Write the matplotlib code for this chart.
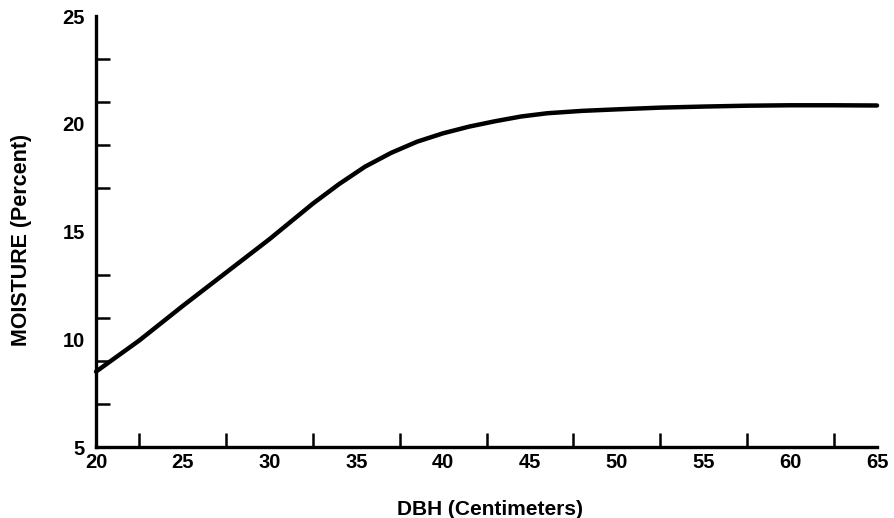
import numpy as np
import matplotlib.pyplot as plt

# values
dbh = [20, 22.5, 25, 27.5, 30, 32.5, 34, 35.5, 37, 38.5, 40, 41.5, 43, 44.5,
       46, 48, 50, 52.5, 55, 57.5, 60, 62.5, 65]
moisture = [8.5, 9.95, 11.55, 13.1, 14.65, 16.3, 17.2, 18.01, 18.65, 19.17, 19.56,
            19.87, 20.12, 20.34, 20.49, 20.6, 20.67, 20.75, 20.8, 20.84, 20.86,
            20.86, 20.85]

x_labels = [20, 25, 30, 35, 40, 45, 50, 55, 60, 65]
y_labels = [5, 10, 15, 20, 25]

plt.rcParams['font.family'] = ['Liberation Sans', 'DejaVu Sans']
plt.rcParams['font.weight'] = 'bold'

fig = plt.figure(figsize=(8.94, 5.18), dpi=100)
ax = fig.add_axes([0.1074, 0.137, 0.8736, 0.832])

ax.plot(dbh, moisture, color='black', lw=3.2, solid_capstyle='round',
        solid_joinstyle='round', clip_on=False)

ax.set_xlim(20, 65)
ax.set_ylim(5, 25)

for s in ['top', 'right']:
    ax.spines[s].set_visible(False)
for s in ['left', 'bottom']:
    ax.spines[s].set_linewidth(2.4)

ax.set_xticks(x_labels)
ax.set_xticks(np.arange(20, 65.1, 2.5), minor=True)
ax.set_yticks(y_labels)
ax.set_yticks(np.arange(5, 25.1, 2), minor=True)

ax.tick_params(axis='both', which='major', length=0, labelsize=14.5)
ax.tick_params(axis='x', which='major', pad=4)
ax.tick_params(axis='y', which='major', pad=8)
ax.tick_params(axis='both', which='minor', direction='in', length=10, width=1.8)

ax.set_xlabel('DBH (Centimeters)', fontsize=15, fontweight='bold')
ax.set_ylabel('MOISTURE (Percent)', fontsize=15.5, fontweight='bold')
ax.xaxis.set_label_coords(0.504, -0.123)
ax.yaxis.set_label_coords(-0.082, 0.48)

fig.savefig('out.png', dpi=100)
